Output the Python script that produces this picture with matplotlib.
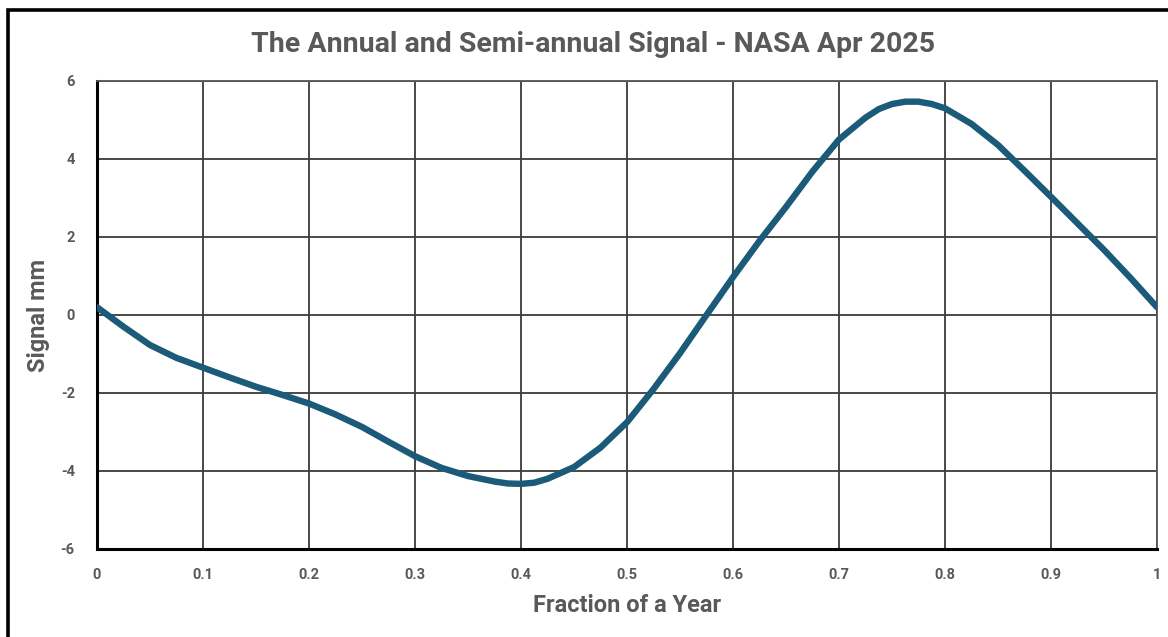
import numpy as np
import matplotlib.pyplot as plt
from matplotlib.patches import Rectangle

# Значения
fraction = [0.0, 0.025, 0.05, 0.075, 0.1, 0.125, 0.15, 0.175, 0.2, 0.225,
            0.25, 0.275, 0.3, 0.325, 0.35, 0.375, 0.3875, 0.4, 0.4125, 0.425,
            0.45, 0.475, 0.5, 0.525, 0.55, 0.575, 0.6, 0.625, 0.65, 0.675,
            0.7, 0.725, 0.7375, 0.75, 0.7625, 0.775, 0.7875, 0.8, 0.825, 0.85,
            0.875, 0.9, 0.925, 0.95, 0.975, 1.0]
signal = [0.2, -0.3, -0.77, -1.1, -1.35, -1.6, -1.84, -2.05, -2.27, -2.55,
          -2.87, -3.25, -3.62, -3.92, -4.13, -4.27, -4.32, -4.33, -4.3, -4.2,
          -3.9, -3.4, -2.75, -1.9, -0.98, 0.0, 0.97, 1.9, 2.77, 3.68,
          4.5, 5.06, 5.28, 5.41, 5.47, 5.47, 5.41, 5.3, 4.9, 4.36,
          3.7, 3.03, 2.35, 1.67, 0.95, 0.2]
xticks = [0, 0.1, 0.2, 0.3, 0.4, 0.5, 0.6, 0.7, 0.8, 0.9, 1]
xlabels = ['0', '0.1', '0.2', '0.3', '0.4', '0.5', '0.6', '0.7', '0.8', '0.9', '1']
yticks = [-6, -4, -2, 0, 2, 4, 6]

plt.rcParams['font.family'] = ['Roboto', 'DejaVu Sans']
plt.rcParams['axes.unicode_minus'] = False
gray = '#595959'

fig = plt.figure(figsize=(11.68, 6.37), dpi=100)
ax = fig.add_axes([97/1168, 1 - 549/637, 1060/1168, 468/637])

ax.plot(fraction, signal, color='#1b5a78', lw=4.6, solid_capstyle='round',
        solid_joinstyle='round', zorder=3)

ax.set_xlim(0, 1)
ax.set_ylim(-6, 6)
ax.set_xticks(xticks)
ax.set_xticklabels(xlabels)
ax.set_yticks(yticks)
ax.grid(True, color='#3a3a3a', lw=1.3)
ax.tick_params(length=0, labelsize=10.5, labelcolor=gray)
ax.tick_params(axis='x', pad=14)
ax.tick_params(axis='y', pad=16)
for lab in ax.get_xticklabels() + ax.get_yticklabels():
    lab.set_fontweight('bold')
ax.spines['left'].set_linewidth(2.2)
ax.spines['bottom'].set_linewidth(2.2)
for s in ['top', 'right']:
    ax.spines[s].set_color('#555555')
    ax.spines[s].set_linewidth(1.3)

ax.set_xlabel('Fraction of a Year', fontsize=17, fontweight='bold', color=gray, labelpad=8)
ax.set_ylabel('Signal mm', fontsize=17, fontweight='bold', color=gray, labelpad=8)
fig.text(0.508, 1 - 45/637, 'The Annual and Semi-annual Signal - NASA Apr 2025',
         ha='center', va='center', fontsize=20.5, fontweight='bold', color=gray)

# рамка вокруг рисунка
fig.patches.append(Rectangle((8/1168, -0.1), 1.2, 1 - 10/637 + 0.1,
                             transform=fig.transFigure, fill=False,
                             ec='black', lw=2.6))

fig.savefig('out.png', dpi=100)
